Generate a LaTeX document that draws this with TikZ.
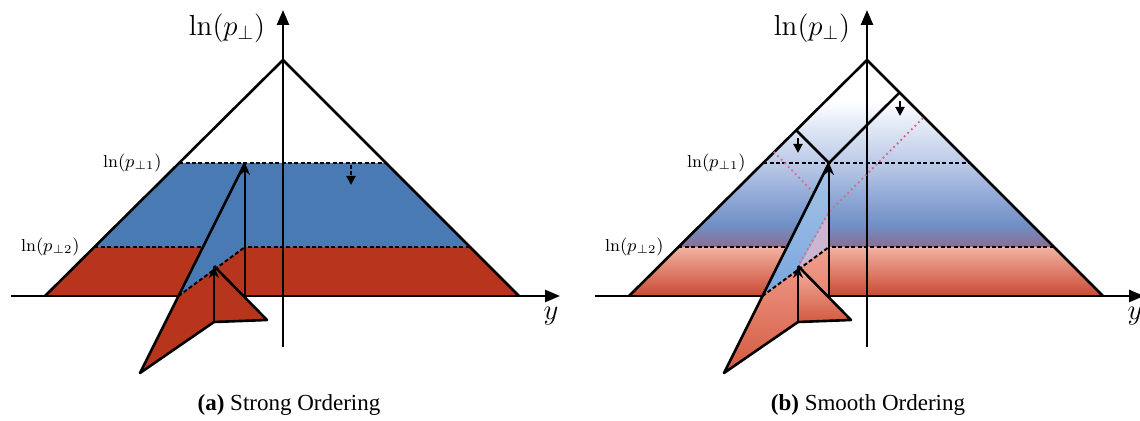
\documentclass[tikz,border=0pt]{standalone}
\usepackage{fontspec}
\newfontfamily\capfont{Liberation Serif}
\usetikzlibrary{arrows.meta,calc}

\definecolor{bandblue}{HTML}{4A7AB3}
\definecolor{bandred}{HTML}{B8351D}
\definecolor{sbpurple}{HTML}{8A6E92}
\definecolor{sbblue}{HTML}{7090C6}
\definecolor{sbmid}{HTML}{98AEDA}
\definecolor{sblight}{HTML}{BCCAE8}
\definecolor{sbpale}{HTML}{E8EEF8}
\definecolor{sred1}{HTML}{F2B2A2}
\definecolor{sred2}{HTML}{C94A33}
\definecolor{leafblue1}{HTML}{A8C4E8}
\definecolor{leafblue2}{HTML}{78A6DC}
\definecolor{leaflilac}{HTML}{CDB6D2}
\definecolor{leafred1}{HTML}{F2A090}
\definecolor{leafred2}{HTML}{D25A40}
\definecolor{tracepink}{HTML}{D86A8A}

\pgfdeclareverticalshading{smoothupper}{100bp}{color(0bp)=(sbpurple); color(25bp)=(sbpurple); color(31bp)=(sbblue); color(40bp)=(sbmid); color(47.5bp)=(sblight); color(59bp)=(sbpale); color(64bp)=(white); color(100bp)=(white)}

% shared points of one Lund plane, in pixels
\newcommand{\lundcoords}{%
  \coordinate (A) at (283,60);
  \coordinate (L) at (45,296);
  \coordinate (R) at (519,296);
  \coordinate (L1) at ($(A)!0.4364!(L)$);
  \coordinate (R1) at ($(A)!0.4364!(R)$);
  \coordinate (L2) at ($(A)!0.7924!(L)$);
  \coordinate (R2) at ($(A)!0.7924!(R)$);
  \coordinate (H0) at (11,296);
  \coordinate (H1) at (560,296);
  \coordinate (V0) at (283,347);
  \coordinate (V1) at (283,10);
  \coordinate (E) at (245,163);
  \coordinate (F) at (245,296);
  \coordinate (S) at (178.5,296);
  \coordinate (D) at (245,247);
  \coordinate (X) at (245,297.5);
  \coordinate (G) at (214,269.6);
  \coordinate (P) at (214,266);
  \coordinate (Q) at (214,322);
  \coordinate (U) at (267,320);
  \coordinate (T) at (140,373);
}

\begin{document}
\begin{tikzpicture}[x=0.5pt,y=-0.5pt,
    edge/.style={line width=1.3pt,line join=round},
    level/.style={line width=1pt,dash pattern=on 2pt off 1.2pt},
    axis/.style={line width=1.3pt,-{Triangle[length=7.5pt,width=6pt]}},
    emit/.style={line width=1.2pt,-{Stealth[open,length=6pt,width=5pt]}},
    drop/.style={line width=1pt,-{Triangle[length=4.5pt,width=4.5pt]}},
    trace/.style={line width=0.9pt,color=tracepink,dash pattern=on 0.9pt off 1.6pt},
    biglabel/.style={font=\fontsize{14.5}{16}\selectfont},
    smalllabel/.style={font=\fontsize{8.7}{10}\selectfont,anchor=east,inner sep=1pt},
    caption/.style={font=\capfont\fontsize{11.5}{13}\selectfont}]
  \useasboundingbox (0,0) rectangle (1140,421);

  % (a) strong ordering
  \begin{scope}
    \lundcoords
    \coordinate (M0) at (351,165);
    \coordinate (M1) at (351,185);
    \fill[bandblue] (L1)--(R1)--(R2)--(L2)--cycle;
    \fill[bandred] (L2)--(R2)--(R)--(L)--cycle;
    \draw[level] (L1)--(R1);
    \draw[level] (L2)--(R2);
    \draw[edge] (L)--(A)--(R);
    \draw[drop,dash pattern=on 2pt off 1pt] (M0)--(M1);
    \draw[axis] (H0)--(H1);
    \draw[axis] (V0)--(V1);
    \fill[bandblue] (E)--(S)--(D)--cycle;
    \fill[bandred] (S)--(T)--(Q)--(U)--(X)--(D)--cycle;
    \draw[level] (S)--(D);
    \draw[edge] (E)--(T)--(Q)--(U)--(P);
    \draw[emit] (F)--(E);
    \draw[emit] (Q)--(P);
    \node[biglabel] (pta) at (227,28) {$\ln(p_\perp)$};
    \node[biglabel] (ya) at (551,316) {$y$};
    \node[smalllabel] (pta1) at (164,163) {$\ln(p_{\perp 1})$};
    \node[smalllabel] (pta2) at (82,247) {$\ln(p_{\perp 2})$};
    \node[caption] (capa) at (289,405) {\textbf{(a)} Strong Ordering};
  \end{scope}

  % (b) smooth ordering
  \begin{scope}[shift={(584,0)}]
    \lundcoords
    \coordinate (K1) at (212.2,130.2);
    \coordinate (K2) at (315.7,92.4);
    \coordinate (C1) at (190,152);
    \coordinate (C2) at (230,193);
    \coordinate (C3) at (339,118);
    \coordinate (C4) at (245,212);
    \coordinate (N0) at (214,138);
    \coordinate (N1) at (214,153);
    \coordinate (N2) at (316,101);
    \coordinate (N3) at (316,116);
    \shade[shading=smoothupper] (A)--(L2)--(R2)--cycle;
    \shade[top color=sred1,bottom color=sred2] (L2)--(R2)--(R)--(L)--cycle;
    \draw[level] (L1)--(R1);
    \draw[level] (L2)--(R2);
    \draw[edge] (L)--(A)--(R);
    \draw[edge] (K1)--(E)--(K2);
    \draw[drop] (N0)--(N1);
    \draw[drop] (N2)--(N3);
    \draw[axis] (H0)--(H1);
    \draw[axis] (V0)--(V1);
    \shade[top color=leafblue1,bottom color=leafblue2] (E)--(S)--(G)--(C4)--cycle;
    \fill[leaflilac] (C4)--(G)--(D)--cycle;
    \shade[top color=leafred1,bottom color=leafred2] (S)--(T)--(Q)--(U)--(X)--(D)--cycle;
    \shade[top color=leafred1!80!white,bottom color=leafred2] (P)--(Q)--(U)--cycle;
    \draw[trace] (C1)--(C2);
    \draw[trace] (C3)--(C4)--(P);
    \draw[level] (S)--(D);
    \draw[edge] (E)--(T)--(Q)--(U)--(P);
    \draw[emit] (F)--(E);
    \draw[emit] (Q)--(P);
    \node[biglabel] (ptb) at (228,28) {$\ln(p_\perp)$};
    \node[biglabel] (yb) at (551,316) {$y$};
    \node[smalllabel] (ptb1) at (164,163) {$\ln(p_{\perp 1})$};
    \node[smalllabel] (ptb2) at (82,247) {$\ln(p_{\perp 2})$};
    \node[caption] (capb) at (284,405) {\textbf{(b)} Smooth Ordering};
  \end{scope}
\end{tikzpicture}
\end{document}
